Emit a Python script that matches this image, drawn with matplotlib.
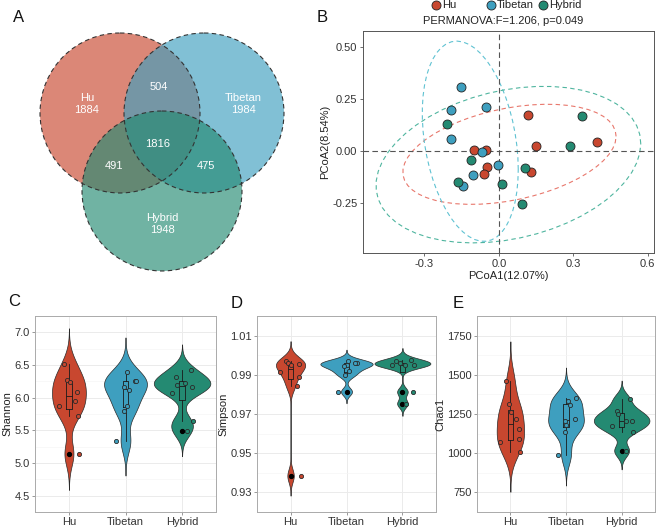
import numpy as np
import matplotlib.pyplot as plt
from matplotlib.patches import Circle
from matplotlib.lines import Line2D

plt.rcParams['font.family'] = ['Liberation Sans', 'DejaVu Sans']
plt.rcParams['axes.unicode_minus'] = False

groups = ["Hu", "Tibetan", "Hybrid"]
colors = ["#C8472F", "#3E9FBF", "#248A72"]
ell_colors = ["#E8776C", "#5FC2D2", "#4FB59F"]

# Venn counts
venn_only = [1884, 1984, 1948]
venn_pairs = [504, 491, 475]   # Hu&Tibetan, Hu&Hybrid, Tibetan&Hybrid
venn_all = 1816

# PCoA scores
pc1 = [[0.119, 0.151, 0.395, 0.131, -0.100, -0.051, -0.046, -0.062],
       [-0.153, -0.192, -0.052, -0.194, -0.067, -0.106, -0.005, -0.146],
       [-0.210, 0.336, 0.285, -0.113, 0.107, 0.011, -0.166, 0.094]]
pc2 = [[0.174, 0.021, 0.042, -0.101, 0.005, 0.006, -0.080, -0.111],
       [0.307, 0.199, 0.212, 0.056, -0.005, -0.117, -0.071, -0.170],
       [0.127, 0.170, 0.021, -0.043, -0.085, -0.159, -0.151, -0.257]]

# alpha diversity
shannon = [[6.51, 6.27, 6.24, 6.09, 5.95, 5.87, 5.72, 5.14],
           [6.40, 6.26, 6.25, 6.17, 6.11, 5.88, 5.80, 5.33],
           [6.43, 6.32, 6.20, 6.23, 6.17, 6.07, 5.64, 5.49]]
simpson = [[0.9970, 0.9961, 0.9951, 0.9953, 0.9913, 0.9891, 0.9841, 0.9385],
           [0.9969, 0.9962, 0.9958, 0.9952, 0.9943, 0.9920, 0.9898, 0.9814],
           [0.9974, 0.9969, 0.9959, 0.9950, 0.9950, 0.9948, 0.9814, 0.9753]]
chao1 = [[1462, 1314, 1263, 1216, 1154, 1092, 1071, 1005],
         [1353, 1330, 1308, 1221, 1203, 1180, 1133, 987],
         [1344, 1268, 1250, 1205, 1205, 1174, 1138, 1016]]

# jitter offsets
shannon_jit = [[-0.08, -0.035, 0.02, 0.15, 0.11, -0.18, 0.16, 0.18],
               [0.02, 0.16, 0.19, -0.02, 0.07, 0.02, -0.02, -0.16],
               [0.16, -0.10, -0.09, 0.06, 0.18, -0.18, 0.19, 0.08]]
simpson_jit = [[-0.09, -0.04, 0.01, 0.15, -0.18, 0.15, 0.11, 0.18],
               [0.03, 0.18, 0.16, 0.0, -0.05, 0.05, -0.02, -0.15],
               [0.16, -0.11, -0.05, -0.18, 0.04, 0.2, 0.19, 0.07]]
chao1_jit = [[-0.08, -0.03, 0.02, 0.11, 0.15, 0.15, -0.18, 0.17],
             [0.18, 0.03, 0.08, 0.16, -0.01, 0.0, -0.01, -0.15],
             [0.15, -0.08, -0.06, 0.07, 0.18, -0.17, 0.2, 0.08]]

W, H = 656, 529
FS = 8
fig = plt.figure(figsize=(W / 100, H / 100), dpi=100)


def px_axes(l, t, r, b):
    return fig.add_axes([l / W, 1 - b / H, (r - l) / W, (b - t) / H])


## A: Venn
axv = px_axes(0, 0, 320, 290)
axv.set_xlim(0, 320)
axv.set_ylim(290, 0)
axv.axis("off")
centers = [(120, 113), (204, 113), (162, 191)]
for (cx, cy), c in zip(centers, colors):
    axv.add_patch(Circle((cx, cy), 80, facecolor=c, alpha=0.65, edgecolor="none"))
for cx, cy in centers:
    axv.add_patch(Circle((cx, cy), 80, facecolor="none", edgecolor="#333333",
                         lw=0.8, ls=(0, (4, 3))))
tk = dict(color="white", fontsize=FS, ha="center", va="center", linespacing=1.35)
axv.text(87, 104, "Hu\n%d" % venn_only[0], **tk)
axv.text(243, 104, "Tibetan\n%d" % venn_only[1], **tk)
axv.text(162, 224, "Hybrid\n%d" % venn_only[2], **tk)
axv.text(159, 87, str(venn_pairs[0]), **tk)
axv.text(114, 166, str(venn_pairs[1]), **tk)
axv.text(206, 166, str(venn_pairs[2]), **tk)
axv.text(158, 144, str(venn_all), **tk)


## B: PCoA
def cov_trob(x, nu=5, tol=0.01):
    n, p = x.shape
    loc = x.mean(0)
    w = np.ones(n)
    for _ in range(25):
        w0 = w
        X = x - loc
        u, s, vt = np.linalg.svd(np.sqrt(w / w.sum())[:, None] * X, full_matrices=False)
        wX = X @ vt.T / s
        Q = (wX ** 2).sum(1)
        w = (nu + p) / (nu + Q)
        loc = (w[:, None] * x).sum(0) / w.sum()
        if np.all(np.abs(w - w0) < tol):
            break
    sw = np.sqrt(w)[:, None] * X
    return sw.T @ sw / n, loc


def ellipse(xs, ys, level=0.95):
    pts = np.column_stack([xs, ys])
    cov, loc = cov_trob(pts)
    d2 = len(xs) - 1
    f = d2 / 2 * ((1 - level) ** (-2 / d2) - 1)
    r = np.sqrt(2 * f)
    R = np.linalg.cholesky(cov).T
    a = np.linspace(0, 2 * np.pi, 52)
    circ = np.column_stack([np.cos(a), np.sin(a)])
    return loc + r * circ @ R


axb = px_axes(363, 31, 654, 253)
ells = [ellipse(pc1[i], pc2[i]) for i in range(3)]
for e, c in zip(ells, ell_colors):
    axb.plot(e[:, 0], e[:, 1], color=c, lw=0.8, ls=(0, (4, 3)))
axb.axhline(0, color="#555555", lw=0.8, ls=(0, (5, 3)))
axb.axvline(0, color="#555555", lw=0.8, ls=(0, (5, 3)))
for i in range(3):
    axb.scatter(pc1[i], pc2[i], s=42, facecolor=colors[i], edgecolor="#222222",
                lw=0.6, zorder=3)
allx = np.concatenate([e[:, 0] for e in ells])
ally = np.concatenate([e[:, 1] for e in ells])
px = (allx.max() - allx.min()) * 0.05
py = (ally.max() - ally.min()) * 0.05
axb.set_xlim(allx.min() - px, allx.max() + px)
axb.set_ylim(ally.min() - py, ally.max() + py)
axb.set_xticks([-0.3, 0.0, 0.3, 0.6])
axb.set_xticklabels(["-0.3", "0.0", "0.3", "0.6"])
axb.set_yticks([-0.25, 0.0, 0.25, 0.5])
axb.set_yticklabels(["-0.25", "0.00", "0.25", "0.50"])
axb.set_xlabel("PCoA1(12.07%)", fontsize=FS, color="#222222", labelpad=1.5)
axb.set_ylabel("PCoA2(8.54%)", fontsize=FS, color="#222222", labelpad=1.5)
axb.tick_params(labelsize=FS, labelcolor="#333333", color="#555555", length=2.5,
                width=0.6, pad=1.5)
for s in axb.spines.values():
    s.set_color("#555555")
    s.set_linewidth(0.7)
fig.text(503 / W, 1 - 21 / H, "PERMANOVA:F=1.206, p=0.049", fontsize=FS,
         ha="center", va="center", color="#222222")
leg_x = [436, 491, 543]
for g, c, lx in zip(groups, colors, leg_x):
    fig.add_artist(Line2D([lx / W], [1 - 5 / H], marker="o", markersize=6.5,
                          markerfacecolor=c, markeredgecolor="#222222", mew=0.6,
                          transform=fig.transFigure))
    fig.text((lx + 6) / W, 1 - 5 / H, g, fontsize=FS, ha="left", va="center",
             color="#222222")


## C-E: violins
def violin_panel(ax, data, jit, yticks, fmt, ylabel, vw=1.0):
    dens = []
    for vals in data:
        v = np.asarray(vals, float)
        q1, q3 = np.percentile(v, [25, 75])
        bw = 0.9 * min(v.std(ddof=1), (q3 - q1) / 1.34) * len(v) ** -0.2
        y = np.linspace(v.min() - 3 * bw, v.max() + 3 * bw, 512)
        d = np.exp(-0.5 * ((y[:, None] - v[None, :]) / bw) ** 2).sum(1) / (len(v) * bw * np.sqrt(2 * np.pi))
        dens.append((y, d))
    dmax = max(d.max() for _, d in dens)
    for i, (y, d) in enumerate(dens):
        w = d / dmax * vw / 2
        ax.fill_betweenx(y, i + 1 - w, i + 1 + w, facecolor=colors[i],
                         edgecolor="#2a2a2a", lw=0.5, zorder=2)
    lp = dict(color="#1a1a1a", lw=0.6)
    ax.boxplot(data, positions=[1, 2, 3], widths=0.1, showcaps=False,
               boxprops=lp, whiskerprops=lp, medianprops=lp,
               flierprops=dict(marker="o", markersize=2.8, markerfacecolor="black",
                               markeredgecolor="black"),
               manage_ticks=False, zorder=3)
    for i, (vals, off) in enumerate(zip(data, jit)):
        ax.scatter(np.array(off) + i + 1, vals, s=9, facecolor=colors[i],
                   edgecolor="#2a2a2a", lw=0.6, zorder=4)
    lo = min(y.min() for y, _ in dens)
    hi = max(y.max() for y, _ in dens)
    pad = (hi - lo) * 0.05
    ax.set_ylim(lo - pad, hi + pad)
    ax.set_xlim(0.4, 3.6)
    ax.set_xticks([1, 2, 3])
    ax.set_xticklabels(groups)
    ax.set_yticks(yticks)
    ax.set_yticklabels([fmt % t for t in yticks])
    step = yticks[1] - yticks[0]
    minor = np.arange(yticks[0] - step / 2, yticks[-1] + step, step)
    ax.set_yticks(minor, minor=True)
    ax.grid(which="major", color="#EBEBEB", lw=0.7)
    ax.grid(which="minor", axis="y", color="#F5F5F5", lw=0.5)
    ax.set_axisbelow(True)
    ax.tick_params(which="minor", length=0)
    ax.tick_params(labelsize=FS, labelcolor="#333333", color="#888888", length=2,
                   width=0.6, pad=1.5)
    ax.set_ylabel(ylabel, fontsize=FS, color="#222222", labelpad=1.5)
    for s in ax.spines.values():
        s.set_color("#AAAAAA")
        s.set_linewidth(0.7)


axc = px_axes(35, 316, 216, 512)
violin_panel(axc, shannon, shannon_jit, [4.5, 5.0, 5.5, 6.0, 6.5, 7.0], "%.1f", "Shannon")
axd = px_axes(257, 316, 436, 512)
violin_panel(axd, simpson, simpson_jit, [0.93, 0.95, 0.97, 0.99, 1.01], "%.2f", "Simpson")
axe = px_axes(477, 316, 655, 512)
violin_panel(axe, chao1, chao1_jit, [750, 1000, 1250, 1500, 1750], "%d", "Chao1")

for lab, x, y in [("A", 19, 18), ("B", 322, 17), ("C", 14, 302), ("D", 237, 303), ("E", 458, 303)]:
    fig.text(x / W, 1 - y / H, lab, fontsize=12, ha="center", va="center", color="#111111")

fig.savefig("out.png", dpi=100)
